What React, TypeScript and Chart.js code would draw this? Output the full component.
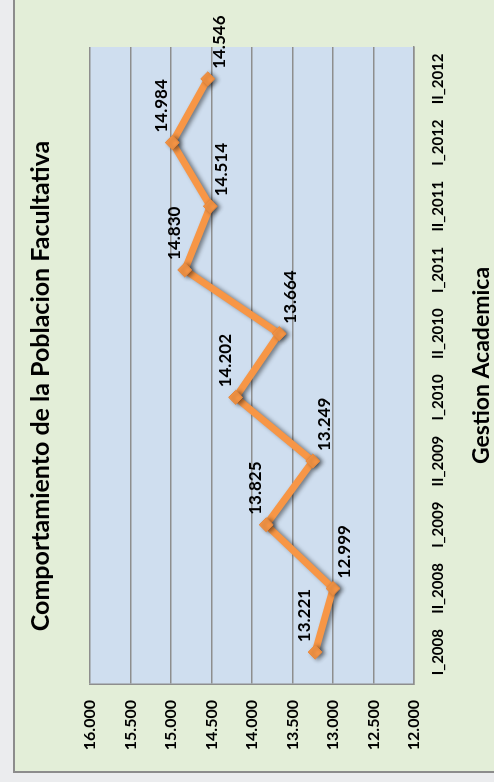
import React, { useEffect, useRef } from 'react';
import { Chart, registerables } from 'chart.js';

Chart.register(...registerables);

// ---- data ----
const categories = ['I_2008', 'II_2008', 'I_2009', 'II_2009', 'I_2010', 'II_2010', 'I_2011', 'II_2011', 'I_2012', 'II_2012'];
const poblacion = [13221, 12999, 13825, 13249, 14202, 13664, 14830, 14514, 14984, 14546];
const axisMin = 12000;
const axisMax = 16000;
const axisStep = 500;
const chartTitle = 'Comportamiento de la Poblacion Facultativa';
const xAxisTitle = 'Gestion Academica';

const FONT = 'Lato';

function fmt(v: number): string {
  const s = String(Math.round(v));
  return s.replace(/\B(?=(\d{3})+(?!\d))/g, '.');
}

export default function App() {
  const ref = useRef<HTMLCanvasElement | null>(null);

  useEffect(() => {
    if (!ref.current) return;

    const plotBg = {
      id: 'plotBg',
      beforeDraw(chart: any) {
        const { ctx, chartArea: a } = chart;
        ctx.save();
        ctx.fillStyle = '#cfdeef';
        ctx.fillRect(a.left, a.top, a.right - a.left, a.bottom - a.top);
        ctx.restore();
      },
    };

    const shadow = {
      id: 'lineShadow',
      beforeDatasetsDraw(chart: any) {
        const c = chart.ctx;
        c.save();
        c.shadowColor = 'rgba(0,0,0,0.45)';
        c.shadowBlur = 4;
        c.shadowOffsetX = -1;
        c.shadowOffsetY = 3;
      },
      afterDatasetsDraw(chart: any) {
        chart.ctx.restore();
      },
    };

    const valueLabels = {
      id: 'valueLabels',
      afterDraw(chart: any) {
        const { ctx } = chart;
        const meta = chart.getDatasetMeta(0);
        const vals = chart.data.datasets[0].data as number[];
        ctx.save();
        ctx.font = `bold 17px ${FONT}`;
        ctx.fillStyle = '#000';
        ctx.textAlign = 'left';
        ctx.textBaseline = 'alphabetic';
        meta.data.forEach((pt: any, i: number) => {
          const v = vals[i];
          const prev = i > 0 ? vals[i - 1] : -Infinity;
          const next = i < vals.length - 1 ? vals[i + 1] : -Infinity;
          const isPeak = v >= prev && v >= next;
          const y = isPeak ? pt.y - 5 : pt.y + 17;
          ctx.fillText(fmt(v), pt.x + 10, y);
        });
        ctx.restore();
      },
    };

    const chart = new Chart(ref.current, {
      type: 'line',
      data: {
        labels: categories,
        datasets: [
          {
            data: poblacion,
            borderColor: '#f79646',
            borderWidth: 7,
            tension: 0,
            pointStyle: 'rectRot',
            pointRadius: 7,
            pointBackgroundColor: '#f79646',
            pointBorderColor: '#e9893d',
            pointBorderWidth: 1,
          },
        ],
      },
      options: {
        responsive: false,
        animation: false,
        devicePixelRatio: 1,
        layout: { padding: { left: 10, right: 0, top: 0, bottom: 0 } },
        plugins: {
          legend: { display: false },
          tooltip: { enabled: false },
          title: {
            display: true,
            text: chartTitle,
            color: '#000',
            font: { family: FONT, size: 25, weight: 'bold', lineHeight: 1.2 },
            padding: { top: 26, bottom: 34 },
          },
        },
        scales: {
          x: {
            type: 'category',
            offset: true,
            grid: { display: false, drawTicks: false },
            border: { display: true, color: '#8e8e8e', width: 1.5 },
            ticks: {
              color: '#000',
              font: { family: FONT, size: 15, weight: 'bold' },
              padding: 15,
              maxRotation: 0,
              autoSkip: false,
            },
            title: {
              display: true,
              text: xAxisTitle,
              color: '#000',
              font: { family: FONT, size: 23, weight: 'bold', lineHeight: 1 },
              padding: { top: 0, bottom: 1 },
            },
            afterFit(s: any) {
              s.height = 80;
            },
          },
          y: {
            type: 'linear',
            min: axisMin,
            max: axisMax,
            grid: { color: '#8e8e8e', lineWidth: 1.5, drawTicks: false },
            border: { display: true, color: '#8e8e8e', width: 1.5 },
            ticks: {
              stepSize: axisStep,
              padding: 16,
              color: '#000',
              font: { family: FONT, size: 16, weight: 'bold' },
              callback: (v: any) => fmt(Number(v)),
            },
            afterFit(s: any) {
              s.width = 88;
            },
          },
          y2: {
            type: 'linear',
            position: 'right',
            display: true,
            grid: { display: false, drawTicks: false },
            border: { display: false },
            ticks: { display: false },
            afterFit(s: any) {
              s.width = 47;
            },
          },
        },
      } as any,
      plugins: [plotBg, shadow, valueLabels],
    });

    return () => chart.destroy();
  }, []);

  return (
    <div
      style={{
        position: 'fixed',
        left: 0,
        top: 0,
        width: 494,
        height: 782,
        overflow: 'hidden',
        background: '#ebecee',
      }}
    >
      <div
        style={{
          position: 'absolute',
          left: 0,
          top: 782,
          width: 782,
          height: 494,
          transformOrigin: '0 0',
          transform: 'rotate(-90deg)',
        }}
      >
        <div
          style={{
            position: 'absolute',
            left: 9,
            top: 13,
            width: 800,
            height: 520,
            background: '#e3eed8',
            border: '2px solid #8c8c8c',
            boxSizing: 'border-box',
          }}
        />
        <canvas
          ref={ref}
          width={782}
          height={494}
          style={{ position: 'absolute', left: 0, top: 0, width: 782, height: 494 }}
        />
      </div>
    </div>
  );
}
